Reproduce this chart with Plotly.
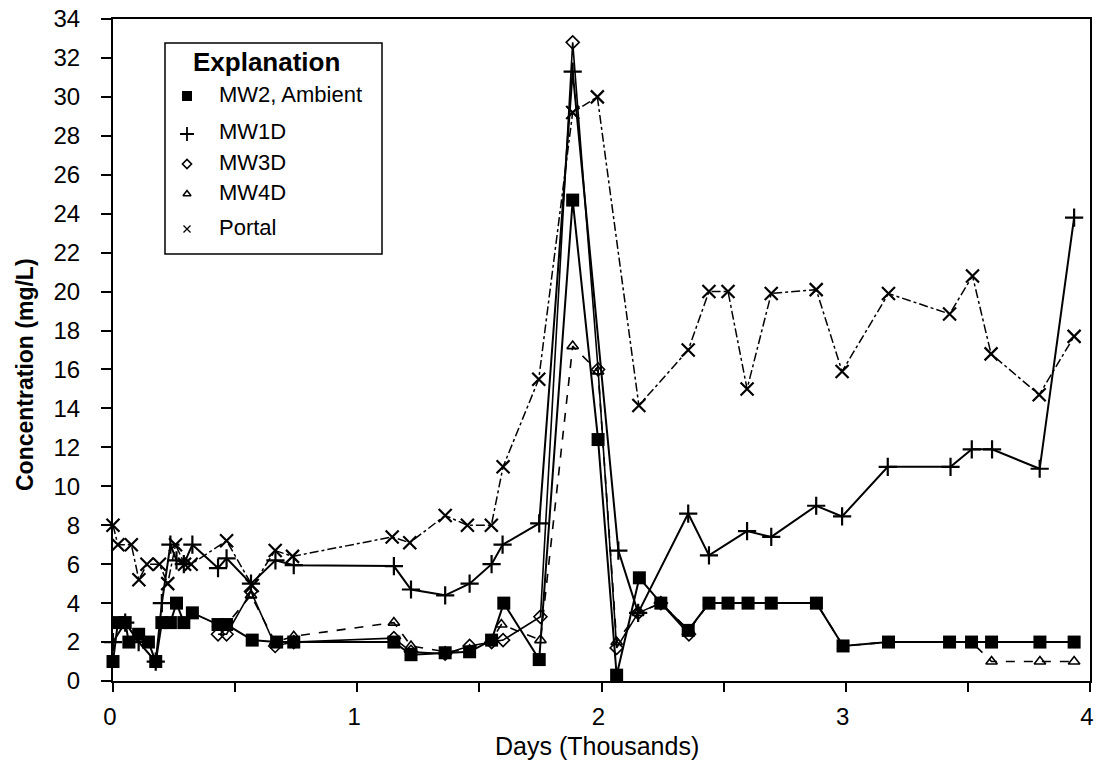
import plotly.graph_objects as go

# Sampling dates (days since start) and concentrations (mg/L) for each well
mw2_days = [0, 20, 50, 65, 105, 145, 175, 200, 235, 260, 290, 325, 430, 465, 570, 670,
            740, 1150, 1220, 1360, 1460, 1550, 1600, 1745, 1882, 1986, 2062, 2155, 2243,
            2355, 2440, 2518, 2600, 2695, 2880, 2989, 3175, 3425, 3515, 3597, 3795, 3935]
mw2_vals = [1.0, 3.0, 3.0, 2.0, 2.4, 2.0, 1.0, 3.0, 3.0, 4.0, 3.0, 3.5, 2.9, 2.9, 2.1, 2.0,
            2.0, 2.0, 1.35, 1.45, 1.5, 2.1, 4.0, 1.1, 24.7, 12.4, 0.3, 5.3, 4.0,
            2.6, 4.0, 4.0, 4.0, 4.0, 4.0, 1.8, 2.0, 2.0, 2.0, 2.0, 2.0, 2.0]

mw1d_days = [0, 50, 105, 175, 200, 235, 260, 290, 325, 430, 465, 565, 665, 740, 1150,
             1220, 1360, 1460, 1550, 1595, 1745, 1882, 2069, 2150, 2355, 2440, 2596,
             2695, 2879, 2985, 3172, 3429, 3516, 3599, 3794, 3935]
mw1d_vals = [2.0, 3.0, 2.0, 1.0, 4.0, 7.0, 6.2, 6.0, 7.0, 5.8, 6.3, 5.0, 6.2, 5.95, 5.9,
             4.7, 4.4, 5.0, 6.0, 7.0, 8.1, 31.3, 6.7, 3.5, 8.6, 6.45, 7.7,
             7.4, 9.0, 8.45, 11.0, 11.0, 11.9, 11.9, 10.9, 23.8]

mw3d_days = [430, 465, 565, 664, 740, 1150, 1220, 1360, 1460, 1550, 1597, 1750, 1882,
             1986, 2062, 2150, 2243, 2358]
mw3d_vals = [2.4, 2.4, 4.6, 1.8, 2.0, 2.2, 1.5, 1.4, 1.8, 2.0, 2.1, 3.3, 32.8,
             16.0, 1.7, 3.5, 4.0, 2.4]

mw4d_days = [430, 465, 565, 664, 740, 1150, 1220, 1360, 1460, 1550, 1590, 1750, 1882,
             1986, 2062, 2150, 2243, 2358, 2440, 2518, 2600, 2695, 2880, 2989, 3175,
             3425, 3515, 3597, 3795, 3935]
mw4d_vals = [2.9, 2.9, 4.4, 2.0, 2.3, 3.0, 1.8, 1.5, 1.6, 2.1, 2.9, 2.1, 17.2,
             15.9, 2.0, 3.5, 4.0, 2.6, 4.0, 4.0, 4.0, 4.0, 4.0, 1.8, 2.0,
             2.0, 2.0, 1.0, 1.0, 1.0]

portal_days = [0, 20, 75, 106, 139, 190, 224, 256, 293, 320, 465, 570, 664, 735, 1143,
               1215, 1360, 1451, 1549, 1597, 1743, 1882, 1983, 2153, 2355, 2440, 2518,
               2596, 2695, 2879, 2985, 3175, 3425, 3519, 3595, 3792, 3935]
portal_vals = [8.0, 7.0, 7.0, 5.2, 6.0, 6.0, 5.0, 7.0, 6.0, 6.0, 7.2, 4.9, 6.7, 6.4, 7.4,
               7.1, 8.5, 8.0, 8.0, 11.0, 15.5, 29.2, 30.0, 14.15, 17.0, 20.0, 20.0,
               15.0, 19.9, 20.1, 15.9, 19.9, 18.85, 20.8, 16.8, 14.7, 17.7]

x_tick_vals = [0, 1000, 2000, 3000, 4000]
x_tick_text = ["0", "1", "2", "3", "4"]
y_tick_vals = list(range(0, 35, 2))

legend_names = ["MW2, Ambient", "MW1D", "MW3D", "MW4D", "Portal"]

FONT = "Liberation Sans, Arial, sans-serif"
INK = "black"

series = [
    dict(x=portal_days, y=portal_vals, name="Portal",
         line=dict(color=INK, width=1.5, dash="dashdot"),
         marker=dict(symbol="x-thin-open", size=13, color=INK, line=dict(width=2.2, color=INK))),
    dict(x=mw4d_days, y=mw4d_vals, name="MW4D",
         line=dict(color=INK, width=1.6, dash="dash"),
         marker=dict(symbol="triangle-up-open", size=10, color=INK, line=dict(width=1.6, color=INK))),
    dict(x=mw3d_days, y=mw3d_vals, name="MW3D",
         line=dict(color=INK, width=1.6),
         marker=dict(symbol="diamond-open", size=10, color=INK, line=dict(width=1.6, color=INK))),
    dict(x=mw1d_days, y=mw1d_vals, name="MW1D",
         line=dict(color=INK, width=2),
         marker=dict(symbol="cross-thin-open", size=13, color=INK, line=dict(width=2.2, color=INK))),
    dict(x=mw2_days, y=mw2_vals, name="MW2, Ambient",
         line=dict(color=INK, width=2),
         marker=dict(symbol="square", size=13, color=INK)),
]

fig = go.Figure()
for s in series:
    fig.add_trace(go.Scatter(x=s["x"], y=s["y"], name=s["name"], mode="lines+markers",
                             line=s["line"], marker=s["marker"], showlegend=False,
                             cliponaxis=False))

# Plot area in pixels: left 113, right 1090, top 19, bottom 681
PL, PR, PT, PB = 113, 1090, 19, 681


def px_x(px):
    return (px - PL) / (PR - PL)


def px_y(py):
    return (PB - py) / (PB - PT)


# Boxed "Explanation" key drawn on an overlay axis spanning the plot area (0..1)
key_rows_px = [96, 134, 164, 194, 229]
key_symbols = [
    dict(symbol="square", size=10, color=INK),
    dict(symbol="cross-thin-open", size=10, color=INK, line=dict(width=1.8, color=INK)),
    dict(symbol="diamond-open", size=7, color=INK, line=dict(width=1.6, color=INK)),
    dict(symbol="triangle-up-open", size=7, color=INK, line=dict(width=1.5, color=INK)),
    dict(symbol="x-thin-open", size=7, color=INK, line=dict(width=1.3, color=INK)),
]
for ypx, mk in zip(key_rows_px, key_symbols):
    fig.add_trace(go.Scatter(x=[px_x(187)], y=[px_y(ypx)], mode="markers", marker=mk,
                             xaxis="x2", yaxis="y2", showlegend=False, hoverinfo="skip"))

fig.add_shape(type="rect", xref="paper", yref="paper", x0=px_x(165), x1=px_x(382),
              y0=px_y(254), y1=px_y(43), line=dict(color=INK, width=1.5), fillcolor="white",
              layer="below")
fig.add_annotation(x=px_x(266), y=px_y(62), xref="paper", yref="paper",
                   text="<b>Explanation</b>", showarrow=False,
                   font=dict(family=FONT, size=26, color=INK),
                   xanchor="center", yanchor="middle")
for ypx, name in zip(key_rows_px, legend_names):
    fig.add_annotation(x=px_x(217), y=px_y(ypx - 2), xref="paper", yref="paper", text=name,
                       showarrow=False, font=dict(family=FONT, size=22, color=INK),
                       xanchor="left", yanchor="middle")

# Axis titles
fig.add_annotation(x=px_x(597), y=px_y(746), xref="paper", yref="paper",
                   text="Days (Thousands)", showarrow=False,
                   font=dict(family=FONT, size=25, color=INK),
                   xanchor="center", yanchor="middle")
fig.add_annotation(x=px_x(25), y=px_y(375), xref="paper", yref="paper",
                   text="<b>Concentration (mg/L)</b>", showarrow=False, textangle=-90,
                   font=dict(family=FONT, size=23, color=INK),
                   xanchor="center", yanchor="middle")

fig.update_layout(
    width=1094, height=762,
    margin=dict(l=PL, r=1094 - PR, t=PT, b=762 - PB),
    paper_bgcolor="white", plot_bgcolor="white",
    font=dict(family=FONT, color=INK),
    xaxis=dict(range=[0, 4000], tickvals=x_tick_vals, ticktext=x_tick_text,
               ticks="outside", ticklen=9, tickwidth=1.6, tickcolor=INK,
               ticklabeloverflow="allow", ticklabelstandoff=4, ticklabelshift=-3,
               automargin=False,
               minor=dict(tickvals=[500, 1500, 2500, 3500], ticks="outside", ticklen=9,
                          tickwidth=1.6, tickcolor=INK),
               showline=True, linecolor=INK, linewidth=2, mirror=True,
               showgrid=False, zeroline=False,
               tickfont=dict(family=FONT, size=24, color=INK)),
    yaxis=dict(range=[0, 34], tickvals=y_tick_vals, ticks="outside", ticklen=10,
               tickwidth=1.6, tickcolor=INK, ticklabelstandoff=16, automargin=False,
               showline=True, linecolor=INK, linewidth=2, mirror=True,
               showgrid=False, zeroline=False,
               tickfont=dict(family=FONT, size=24, color=INK)),
    xaxis2=dict(domain=[0, 1], range=[0, 1], overlaying="x", visible=False, fixedrange=True),
    yaxis2=dict(domain=[0, 1], range=[0, 1], overlaying="y", visible=False, fixedrange=True),
)

fig.write_html("out.html")
